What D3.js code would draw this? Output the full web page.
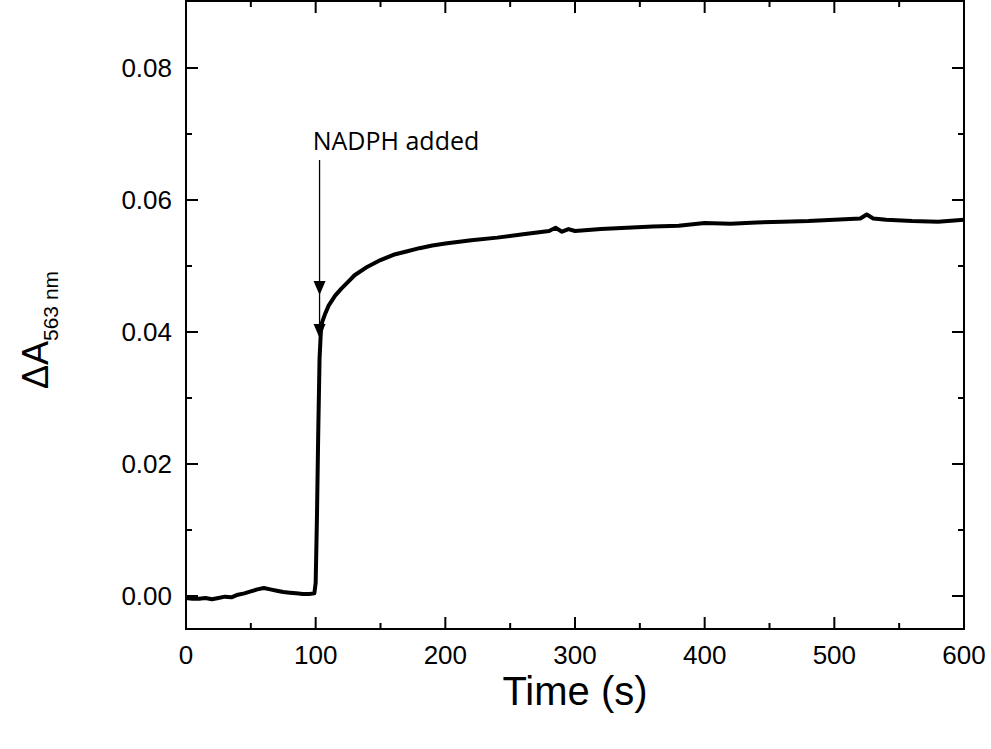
<!DOCTYPE html>
<html><head><meta charset="utf-8">
<script src="https://cdn.jsdelivr.net/npm/d3@7"></script>
<style>body{margin:0;background:#fff}</style></head>
<body><svg id="c" width="991" height="749"></svg>
<script>
// time (s) and absorbance change
var times = [0,5,10,15,20,25,30,35,40,45,50,55,60,65,70,75,80,85,90,95,99,100,101,102,103,104,105,107,110,115,120,125,130,140,150,160,170,180,190,200,220,240,260,280,285,290,295,300,320,340,360,380,400,420,440,460,480,500,520,525,530,540,560,580,600];
var dA = [-0.0003,-0.0004,-0.0004,-0.0003,-0.0005,-0.0003,-0.0001,-0.0002,0.0002,0.0004,0.0007,0.0010,0.0012,0.0010,0.0008,0.0006,0.0005,0.0004,0.0003,0.0003,0.0004,0.002,0.012,0.025,0.036,0.040,0.0415,0.0426,0.0440,0.0455,0.0466,0.0476,0.0486,0.0499,0.0509,0.0517,0.0522,0.0527,0.0531,0.0534,0.0539,0.0543,0.0548,0.0553,0.0558,0.0552,0.0556,0.0553,0.0556,0.0558,0.0560,0.0561,0.0565,0.0564,0.0566,0.0567,0.0568,0.0570,0.0572,0.0578,0.0572,0.0570,0.0568,0.0567,0.0570];
var xTicks = [0,100,200,300,400,500,600];
var yTicks = [0,0.02,0.04,0.06,0.08];

var svg = d3.select("#c");
var m = {left:186, right:964, top:1, bottom:629};
var x = d3.scaleLinear().domain([0,600]).range([m.left,m.right]);
var y = d3.scaleLinear().domain([-0.005,0.09]).range([m.bottom,m.bottom-0.095*6600]);

svg.append("rect").attr("x",m.left).attr("y",m.top).attr("width",m.right-m.left).attr("height",m.bottom-m.top)
  .attr("fill","none").attr("stroke","#000").attr("stroke-width",2);

var g = svg.append("g").attr("stroke","#000").attr("stroke-width",2);
d3.range(0,601,50).forEach(function(v){
  var len = v%100===0 ? 12 : 6;
  g.append("line").attr("x1",x(v)).attr("x2",x(v)).attr("y1",m.bottom).attr("y2",m.bottom-len);
  g.append("line").attr("x1",x(v)).attr("x2",x(v)).attr("y1",m.top).attr("y2",m.top+len);
});
d3.range(0,9).forEach(function(i){
  var v = i*0.01, len = i%2===0 ? 12 : 6;
  g.append("line").attr("y1",y(v)).attr("y2",y(v)).attr("x1",m.left).attr("x2",m.left+len);
  g.append("line").attr("y1",y(v)).attr("y2",y(v)).attr("x1",m.right).attr("x2",m.right-len);
});

var ft = "Liberation Sans, Arial, sans-serif";
svg.selectAll(".xt").data(xTicks).enter().append("text")
  .attr("x",d=>x(d)).attr("y",m.bottom+35).attr("text-anchor","middle")
  .attr("font-family",ft).attr("font-size",26).text(d=>d);
svg.selectAll(".yt").data(yTicks).enter().append("text")
  .attr("x",m.left-14).attr("y",d=>y(d)+9).attr("text-anchor","end")
  .attr("font-family",ft).attr("font-size",26).text(d=>d3.format(".2f")(d));

svg.append("text").attr("x",(m.left+m.right)/2).attr("y",705).attr("text-anchor","middle")
  .attr("font-family",ft).attr("font-size",40).text("Time (s)");
var yl = svg.append("text").attr("transform","translate(48,330) rotate(-90)").attr("text-anchor","middle")
  .attr("font-family",ft).attr("font-size",36);
yl.append("tspan").text("\u0394A");
yl.append("tspan").attr("font-size",21).attr("dy",10).text("563 nm");

var line = d3.line().x((d,i)=>x(times[i])).y(d=>y(d));
svg.append("path").attr("d",line(dA)).attr("fill","none").attr("stroke","#000").attr("stroke-width",4).attr("stroke-linejoin","round");

// annotation
var ax = x(103);
svg.append("line").attr("x1",ax).attr("x2",ax).attr("y1",160).attr("y2",335).attr("stroke","#000").attr("stroke-width",1.3);
[295,338].forEach(function(ty){
  svg.append("path").attr("d","M"+(ax-6)+","+(ty-14)+"L"+(ax+6)+","+(ty-14)+"L"+ax+","+ty+"Z").attr("fill","#000");
});
svg.append("text").attr("x",396).attr("y",150).attr("text-anchor","middle")
  .attr("font-family","Open Sans, sans-serif").attr("font-size",25).text("NADPH added");
</script></body></html>
